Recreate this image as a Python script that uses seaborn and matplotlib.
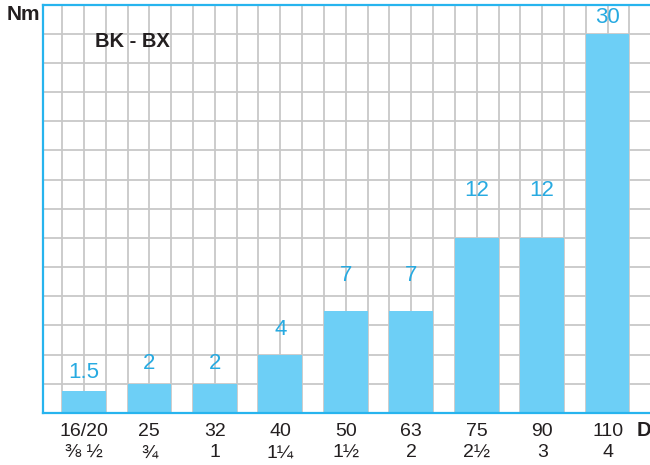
import numpy as np
import matplotlib
matplotlib.use("Agg")
import matplotlib.pyplot as plt
import seaborn as sns
import pandas as pd

# ---- data ----
diam_mm = ["16/20", "25", "32", "40", "50", "63", "75", "90", "110"]
diam_in = ["⅜ ½", "¾", "1", "1¼", "1½", "2", "2½", "3", "4"]
torque_nm = [1.5, 2, 2, 4, 7, 7, 12, 12, 30]
y_max = 28          # top of the drawn scale
bar_cap = 26        # the 30 Nm bar is drawn truncated (broken scale)
label_offset = [1.3, 1.4, 1.4, 1.7, 2.4, 2.4, 3.25, 3.25, 1.1]

sns.set_style("white")
plt.rcParams['font.family'] = ['Liberation Sans', 'DejaVu Sans']

df = pd.DataFrame({
    "cat": [f"{a}\n{b}" for a, b in zip(diam_mm, diam_in)],
    "h": np.minimum(torque_nm, bar_cap),
})

fig = plt.figure(figsize=(6.5, 4.65), dpi=100)
ax = fig.add_axes([0.0657, 0.1118, 1 - 0.0657 + 0.002, 0.9903 - 0.1118])

bar_color = "#6dcff6"
line_blue = "#27b4ee"
text_blue = "#27aae1"

sns.barplot(data=df, x="cat", y="h", color=bar_color, width=2/3,
            saturation=1, ax=ax, zorder=2, linewidth=0, edgecolor="none")

ax.set_xlim(-0.629, 8.63)
ax.set_ylim(0, y_max)

# grid
ax.xaxis.remove_overlapping_locs = False
ax.yaxis.remove_overlapping_locs = False
ax.set_xticks(np.arange(-1/3, 8.7, 1/3), minor=True)
ax.set_yticks([])
ax.set_yticks(np.arange(0, y_max + 0.1, 2), minor=True)
ax.grid(which="minor", color="#c8c8c8", linewidth=1.3)
ax.grid(which="major", visible=False)
ax.set_axisbelow(True)
ax.tick_params(which="both", length=0)
ax.tick_params(axis="x", which="major", pad=7, labelsize=14, colors="#231f20")
for t in ax.get_xticklabels():
    t.set_linespacing(1.35)

ax.set_xlabel("")
ax.set_ylabel("")

for s in ["left", "bottom", "top"]:
    ax.spines[s].set_visible(True)
    ax.spines[s].set_color(line_blue)
    ax.spines[s].set_linewidth(1.6)
    ax.spines[s].set_zorder(4)
ax.spines["right"].set_visible(False)

# value labels
for i, (v, h, off) in enumerate(zip(torque_nm, df["h"], label_offset)):
    lab = f"{v:g}"
    ax.text(i, h + off, lab, ha="center", va="center", color=text_blue,
            fontsize=16, fontweight="light", zorder=3)

ax.text(0.086, 0.91, "BK - BX", transform=ax.transAxes, fontsize=14.5,
        fontweight="bold", color="#231f20", ha="left", va="center")
fig.text(23 / 650, 1 - 15 / 465, "Nm", fontsize=15, fontweight="bold",
         color="#231f20", ha="center", va="center")
fig.text(644 / 650, 1 - 430 / 465, "D", fontsize=14.5, fontweight="bold",
         color="#231f20", ha="center", va="center")

fig.savefig("out.png", dpi=100)
